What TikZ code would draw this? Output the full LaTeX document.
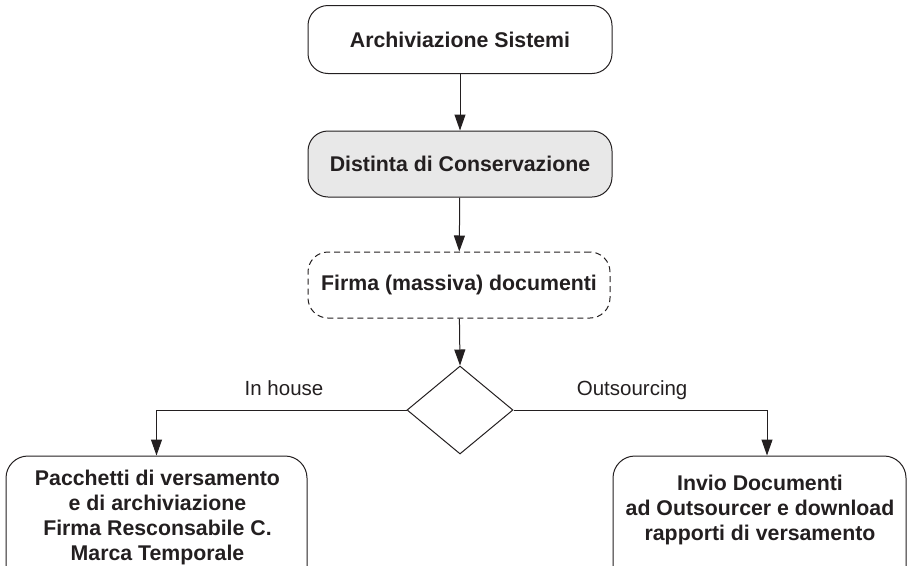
\documentclass[tikz,border=0pt]{standalone}
\usepackage{fontspec}
\setmainfont{Liberation Sans}
\usetikzlibrary{shapes.geometric,arrows.meta}
\definecolor{ink}{RGB}{35,31,32}
\definecolor{shade}{RGB}{232,232,232}
\begin{document}
\begin{tikzpicture}[x=1pt,y=-1pt,
  line width=1pt, draw=ink, text=ink,
  box/.style={draw=ink, rounded corners=20pt, minimum width=304pt, minimum height=68pt,
    inner sep=0pt, font=\fontsize{21.3}{25}\selectfont\bfseries, align=center},
  shadedbox/.style={box, fill=shade},
  dashbox/.style={box, dash pattern=on 6pt off 4pt},
  frame/.style={draw=ink, rounded corners=22pt, inner sep=0pt},
  boxtext/.style={inner sep=0pt, font=\fontsize{21.3}{25}\selectfont\bfseries, align=center},
  choice/.style={draw=ink, diamond, aspect=1.2, minimum width=106pt, minimum height=88pt, inner sep=0pt},
  lbl/.style={inner sep=0pt, font=\fontsize{20.5}{24}\selectfont},
  flow/.style={draw=ink, -{Triangle[length=16pt,width=11pt]}}]
\useasboundingbox (0,0) rectangle (909,565);
\clip (0,0) rectangle (909,565);

% main column
\node[box] (arch) at (460,39.5) {Archiviazione Sistemi};
\node[shadedbox, minimum height=66pt] (dist) at (460,164) {Distinta di Conservazione};
\node[dashbox, minimum width=302pt, minimum height=66pt] (firma) at (459,285) {Firma (massiva) documenti};
\node[choice] (sel) at (460,410) {};

% lower boxes (they run past the lower edge)
\node[frame, minimum width=301pt, minimum height=134pt] (pk) at (156.5,523) {};
\node[boxtext] (pktext) at (157.5,517) {Pacchetti di versamento\\e di archiviazione\\Firma Resconsabile C.\\Marca Temporale};
\node[frame, minimum width=293pt, minimum height=134pt] (out) at (759.5,523) {};
\node[boxtext] (outtext) at (760,510) {Invio Documenti\\ad Outsourcer e download\\rapporti di versamento};

% connectors
\draw[flow] (arch) -- (dist);
\draw[flow] (dist) -- (firma);
\draw[flow] (firma) -- (sel.north);
\draw[flow] (sel.west) -| (pk.north)
  node[lbl, pos=0.245, anchor=base, yshift=15pt] (inh) {In house};
\draw[flow] (sel.east) -| ([xshift=7.5pt]out.north)
  node[lbl, pos=0.234, anchor=base, yshift=15pt] (outs) {Outsourcing};
\end{tikzpicture}
\end{document}
